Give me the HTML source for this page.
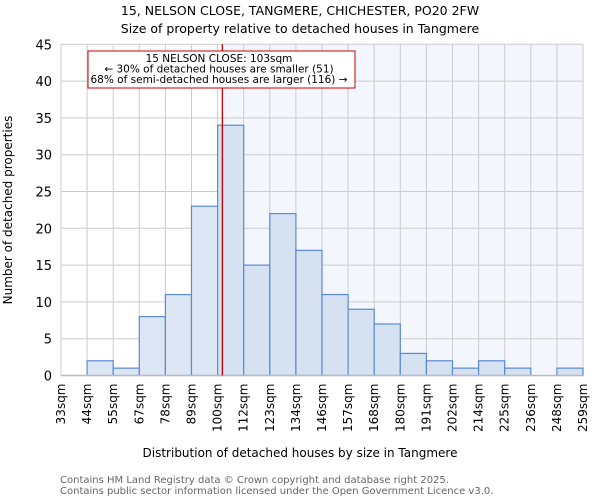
<!DOCTYPE html>
<html><head><meta charset="utf-8"><style>
body{margin:0;background:#fff;font-family:"DejaVu Sans","Liberation Sans",sans-serif;}
svg text{font-family:"DejaVu Sans","Liberation Sans",sans-serif;}
</style></head><body>
<svg id="chart" width="600" height="500">
<text x="300" y="15" text-anchor="middle" font-size="12.5">15, NELSON CLOSE, TANGMERE, CHICHESTER, PO20 2FW</text>
<text x="300" y="33" text-anchor="middle" font-size="12.5">Size of property relative to detached houses in Tangmere</text>
<g id="plot"></g>
<text x="300" y="457" text-anchor="middle" font-size="12">Distribution of detached houses by size in Tangmere</text>
<text transform="translate(12,210) rotate(-90)" text-anchor="middle" font-size="12">Number of detached properties</text>
<text x="60" y="483" font-size="10" fill="#666">Contains HM Land Registry data © Crown copyright and database right 2025.</text>
<text x="60" y="494" font-size="10" fill="#666">Contains public sector information licensed under the Open Government Licence v3.0.</text>
</svg>
<script>
const binLabels=["33sqm","44sqm","55sqm","67sqm","78sqm","89sqm","100sqm","112sqm","123sqm","134sqm","146sqm","157sqm","168sqm","180sqm","191sqm","202sqm","214sqm","225sqm","236sqm","248sqm","259sqm"];
const counts=[0,2,1,8,11,23,34,15,22,17,11,9,7,3,2,1,2,1,0,1];
const yTicks=[0,5,10,15,20,25,30,35,40,45];
const propertyBinPos=6+2/11;
const L=61,R=583,T=44.3,B=375.5,yMax=45;
const NS="http://www.w3.org/2000/svg";
const g=document.getElementById('plot');
const bw=(R-L)/counts.length;
const xS=i=>L+i*bw, yS=v=>B-(v/yMax)*(B-T);
function mk(t,a){const e=document.createElementNS(NS,t);for(const k in a)e.setAttribute(k,a[k]);g.appendChild(e);return e;}
const px=xS(propertyBinPos);
let e=mk('rect',{x:px,y:T,width:R-px,height:B-T,fill:'#f3f6fc'});


yTicks.forEach(v=>{
 const l=mk('line',{x1:L,x2:R,y1:yS(v),y2:yS(v),stroke:'#ccc','stroke-width':1});
 
 
 const t=mk('text',{x:L-9,y:yS(v)+5,'text-anchor':'end','font-size':'13'});
 t.textContent=v;
 
 
});
binLabels.forEach((s,i)=>{
 const x=xS(i);
 const l=mk('line',{x1:x,x2:x,y1:T,y2:B,stroke:'#ccc','stroke-width':1});
 
 
 const t=mk('text',{transform:`translate(${x+4},${B+8}) rotate(-90)`,'text-anchor':'end','font-size':'12'});
 t.textContent=s;
 
 
});
counts.forEach((c,i)=>{
 if(!c)return;
 const r=mk('rect',{x:xS(i),y:yS(c),width:bw,height:yS(0)-yS(c),fill:i<6?'#dde6f4':'#d6e1f2',stroke:'#5a8ad6','stroke-width':1.2});
 
 
});
e=mk('line',{x1:L,x2:R,y1:B,y2:B,stroke:'#bbb','stroke-width':1.5});


e=mk('line',{x1:px,x2:px,y1:T,y2:B,stroke:'#cc0000','stroke-width':1.3});


e=mk('rect',{x:88,y:51,width:267,height:37,fill:'#fff',stroke:'#cc0000','stroke-width':1});


[["15 NELSON CLOSE: 103sqm",62],["← 30% of detached houses are smaller (51)",72.5],["68% of semi-detached houses are larger (116) →",83]].forEach(([s,y])=>{
 const t=mk('text',{x:219,y:y,'text-anchor':'middle','font-size':'10.5'});
 t.textContent=s;
 
 
});
</script>
</body></html>
